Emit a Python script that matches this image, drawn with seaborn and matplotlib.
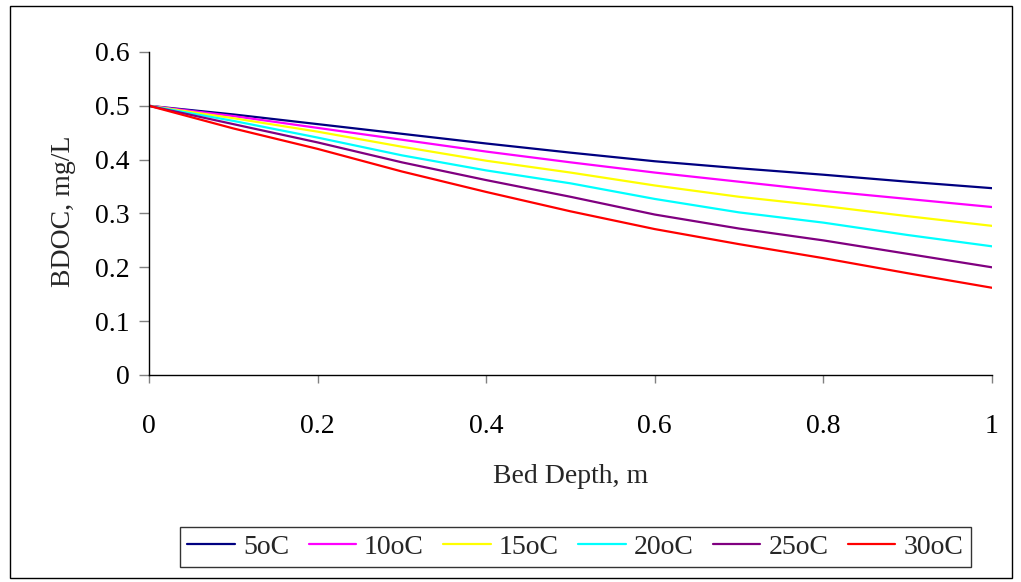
import matplotlib
matplotlib.use('Agg')
import matplotlib.pyplot as plt
from matplotlib.patches import Rectangle
import seaborn as sns
import pandas as pd

# Data
depth = [0.0, 0.1, 0.2, 0.3, 0.4, 0.5, 0.6, 0.7, 0.8, 0.9, 1.0]
bdoc_5 = [0.500, 0.484, 0.466, 0.448, 0.430, 0.413, 0.397, 0.384, 0.372, 0.359, 0.347]
bdoc_10 = [0.500, 0.481, 0.459, 0.437, 0.415, 0.395, 0.376, 0.359, 0.342, 0.327, 0.312]
bdoc_15 = [0.500, 0.477, 0.452, 0.424, 0.398, 0.376, 0.352, 0.331, 0.314, 0.295, 0.277]
bdoc_20 = [0.500, 0.472, 0.441, 0.408, 0.380, 0.356, 0.327, 0.302, 0.283, 0.260, 0.239]
bdoc_25 = [0.500, 0.466, 0.432, 0.395, 0.362, 0.331, 0.298, 0.272, 0.250, 0.225, 0.200]
bdoc_30 = [0.500, 0.458, 0.420, 0.378, 0.340, 0.304, 0.271, 0.243, 0.217, 0.189, 0.162]
labels = ['5oC', '10oC', '15oC', '20oC', '25oC', '30oC']
colors = ['#000080', '#FF00FF', '#FFFF00', '#00FFFF', '#800080', '#FF0000']

series = [bdoc_5, bdoc_10, bdoc_15, bdoc_20, bdoc_25, bdoc_30]
df = pd.concat([pd.DataFrame({'depth': depth, 'bdoc': s, 'temp': lab})
                for s, lab in zip(series, labels)], ignore_index=True)

sns.set_style('white')
plt.rcParams['font.family'] = ['Liberation Serif', 'DejaVu Serif']

fig = plt.figure(figsize=(10.21, 5.82), dpi=100)
ax = fig.add_axes([0.1459, 0.3557, 0.8257, 0.555])

sns.lineplot(data=df, x='depth', y='bdoc', hue='temp', hue_order=labels,
             palette=colors, linewidth=1.6, ax=ax, legend=False)

ax.set_xlim(0, 1)
ax.set_ylim(0, 0.6)
ax.set_xticks([0, 0.2, 0.4, 0.6, 0.8, 1])
ax.set_xticklabels(['0', '0.2', '0.4', '0.6', '0.8', '1'])
ax.set_yticks([0, 0.1, 0.2, 0.3, 0.4, 0.5, 0.6])
ax.set_yticklabels(['0', '0.1', '0.2', '0.3', '0.4', '0.5', '0.6'])
ax.tick_params(axis='x', bottom=True, direction='out', length=6, width=1,
               colors='#808080', labelcolor='black', labelsize=20, pad=22)
ax.tick_params(axis='y', left=True, direction='out', length=7, width=1,
               colors='#808080', labelcolor='black', labelsize=20, pad=7)
for side in ['top', 'right']:
    ax.spines[side].set_visible(False)
for side in ['left', 'bottom']:
    ax.spines[side].set_color('black')
    ax.spines[side].set_linewidth(1)

ax.set_xlabel('Bed Depth, m', fontsize=20)
ax.set_ylabel('BDOC, mg/L', fontsize=20)
ax.xaxis.set_label_coords(0.5, -0.275)
ax.yaxis.set_label_coords(-0.087, 0.508)

handles = [plt.Line2D([], [], color=c, linewidth=1.6) for c in colors]
leg = fig.legend(handles, labels, loc='center', bbox_to_anchor=(0.5637, 0.0601),
                 ncol=6, fontsize=20, frameon=True, fancybox=False,
                 handlelength=1.7, handletextpad=0.3, columnspacing=0.7,
                 borderpad=0.25)
leg.get_frame().set_edgecolor('black')
leg.get_frame().set_linewidth(1)

fig.patches.append(Rectangle((0.0098, 0.0069), 0.981, 0.983, transform=fig.transFigure,
                             fill=False, edgecolor='black', linewidth=1))

fig.savefig('out.png', dpi=100)
